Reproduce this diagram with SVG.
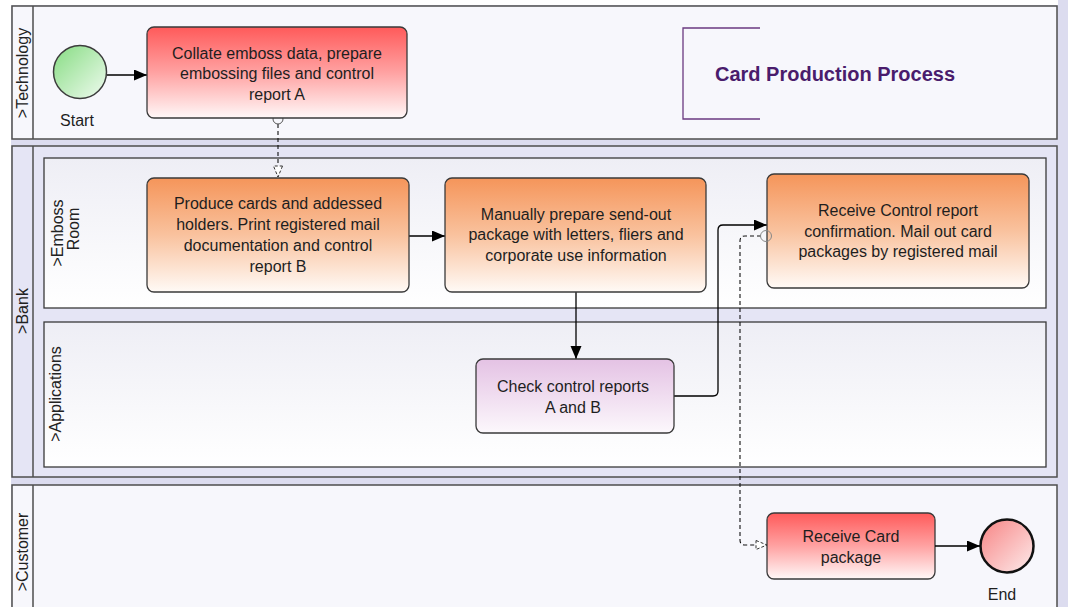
<svg xmlns="http://www.w3.org/2000/svg" width="1068" height="607" viewBox="0 0 1068 607">
  <defs>
    <linearGradient id="gRed" x1="0" y1="0" x2="0" y2="1">
      <stop offset="0" stop-color="#ff5a5a"/>
      <stop offset="0.5" stop-color="#ffa2a2"/>
      <stop offset="1" stop-color="#fff8f8"/>
    </linearGradient>
    <linearGradient id="gOrange" x1="0" y1="0" x2="0" y2="1">
      <stop offset="0" stop-color="#f5955a"/>
      <stop offset="0.5" stop-color="#f9c29e"/>
      <stop offset="1" stop-color="#fffaf6"/>
    </linearGradient>
    <linearGradient id="gPurple" x1="0" y1="0" x2="0" y2="1">
      <stop offset="0" stop-color="#e4c2e4"/>
      <stop offset="1" stop-color="#fcf8fc"/>
    </linearGradient>
    <linearGradient id="gStart" x1="0" y1="0" x2="1" y2="1">
      <stop offset="0" stop-color="#86dc82"/>
      <stop offset="1" stop-color="#f0fbf0"/>
    </linearGradient>
    <linearGradient id="gEnd" x1="0" y1="0" x2="1" y2="1">
      <stop offset="0" stop-color="#f78484"/>
      <stop offset="1" stop-color="#fdecec"/>
    </linearGradient>
    <linearGradient id="gLane" x1="0" y1="0" x2="0" y2="1">
      <stop offset="0" stop-color="#eeeef5"/>
      <stop offset="1" stop-color="#ffffff"/>
    </linearGradient>
    <marker id="arrow" markerUnits="userSpaceOnUse" markerWidth="14" markerHeight="12" refX="13" refY="5.5" orient="auto">
      <path d="M0,0 L13,5.5 L0,11 z" fill="#000"/>
    </marker>
    <marker id="openArrow" markerUnits="userSpaceOnUse" markerWidth="14" markerHeight="12" refX="12" refY="5.5" orient="auto">
      <path d="M1,1 L12,5.5 L1,10 z" fill="#fff" stroke="#333" stroke-width="1" stroke-dasharray="3,2"/>
    </marker>
    <style>
      .pool { stroke: #4e4e4e; stroke-width: 1.5; }
      .poolLight { fill: #f7f7fc; }
      .poolBank { fill: #e5e5f5; }
      .lane { fill: url(#gLane); stroke: #3a3a3a; stroke-width: 1.3; }
      .task { stroke: #3a3a3a; stroke-width: 1.3; }
      .lbl { font-family: "Liberation Sans", Arial, sans-serif; font-size: 16px; fill: #1e1e1e; text-anchor: middle; }
      .hdr { font-family: "Liberation Sans", Arial, sans-serif; font-size: 16px; fill: #222; text-anchor: middle; }
      .title { font-family: "Liberation Sans", Arial, sans-serif; font-size: 20px; font-weight: bold; fill: #4a1c6c; text-anchor: middle; }
      .flow { fill: none; stroke: #000; stroke-width: 1.3; }
      .msg { fill: none; stroke: #111; stroke-width: 1.1; stroke-dasharray: 4,3; }
    </style>
  </defs>

  <!-- page background -->
  <rect x="0" y="0" width="1068" height="607" fill="#ffffff"/>
  <rect x="11" y="5" width="1057" height="602" fill="#dcdcef"/>
  <rect x="1058" y="0" width="10" height="6" fill="#dcdcef"/>

  <!-- pools and lanes -->
  <g id="pool-technology">
    <rect class="pool poolLight" x="12" y="6" width="1045" height="133"/>
    <line class="pool" x1="33" y1="6" x2="33" y2="139"/>
    <text class="hdr" transform="translate(28,73) rotate(-90)">&gt;Technology</text>
  </g>
  <g id="pool-bank">
    <rect class="pool poolBank" x="12" y="146" width="1045" height="331"/>
    <line class="pool" x1="33" y1="146" x2="33" y2="477"/>
    <text class="hdr" transform="translate(28,311) rotate(-90)">&gt;Bank</text>
  </g>
  <g id="lane-emboss-room">
    <rect class="lane" x="44" y="158" width="1002" height="150"/>
    <text class="hdr" transform="translate(63,233) rotate(-90)">&gt;Emboss</text>
    <text class="hdr" transform="translate(79,229) rotate(-90)">Room</text>
  </g>
  <g id="lane-applications">
    <rect class="lane" x="44" y="322" width="1002" height="145"/>
    <text class="hdr" transform="translate(61,394) rotate(-90)">&gt;Applications</text>
  </g>
  <g id="pool-customer">
    <rect class="pool poolLight" x="12" y="485" width="1045" height="140"/>
    <line class="pool" x1="33" y1="485" x2="33" y2="625"/>
    <text class="hdr" transform="translate(28,552) rotate(-90)">&gt;Customer</text>
  </g>

  <!-- title annotation -->
  <g id="annotation-title">
    <path d="M760,28 H683 V119 H760" fill="none" stroke="#6b3a80" stroke-width="1.3"/>
    <text class="title" x="835" y="81">Card Production Process</text>
  </g>

  <!-- connectors -->
  <g id="connectors">
    <path class="flow" d="M107,75 H147" marker-end="url(#arrow)"/>
    <path class="msg" d="M278,124 V177" marker-end="url(#openArrow)"/>
    <path class="flow" d="M409,236 H445" marker-end="url(#arrow)"/>
    <path class="flow" d="M576,292 V359" marker-end="url(#arrow)"/>
    <path class="flow" d="M674,396 H713 Q718,396 718,391 V230 Q718,225 723,225 H767" marker-end="url(#arrow)"/>
    <path class="msg" d="M761,236 H745 Q740,236 740,241 V540 Q740,545 745,545 H767" marker-end="url(#openArrow)"/>
    <circle cx="278" cy="119" r="5" fill="none" stroke="#555" stroke-width="1"/>
  </g>

  <!-- nodes -->
  <g id="start">
    <circle cx="80" cy="72" r="26.5" fill="url(#gStart)" stroke="#3c3c3c" stroke-width="1.5"/>
    <text class="lbl" x="77" y="126">Start</text>
  </g>
  <g id="task-collate">
    <rect class="task" x="147" y="27" width="260" height="91" rx="7" fill="url(#gRed)"/>
    <text class="lbl" x="277" y="59">Collate emboss data, prepare</text>
    <text class="lbl" x="277" y="79">embossing files and control</text>
    <text class="lbl" x="277" y="100">report A</text>
  </g>
  <g id="task-produce">
    <rect class="task" x="147" y="178" width="262" height="114" rx="7" fill="url(#gOrange)"/>
    <text class="lbl" x="278" y="209">Produce cards and addessed</text>
    <text class="lbl" x="278" y="230">holders. Print registered mail</text>
    <text class="lbl" x="278" y="251">documentation and control</text>
    <text class="lbl" x="278" y="272">report B</text>
  </g>
  <g id="task-prepare">
    <rect class="task" x="445" y="178" width="261" height="114" rx="7" fill="url(#gOrange)"/>
    <text class="lbl" x="576" y="220">Manually prepare send-out</text>
    <text class="lbl" x="576" y="240">package with letters, fliers and</text>
    <text class="lbl" x="576" y="261">corporate use information</text>
  </g>
  <g id="task-receive-confirmation">
    <rect class="task" x="767" y="174" width="262" height="114" rx="7" fill="url(#gOrange)"/>
    <text class="lbl" x="898" y="216">Receive Control report</text>
    <text class="lbl" x="898" y="237">confirmation. Mail out card</text>
    <text class="lbl" x="898" y="257">packages by registered mail</text>
    <circle cx="766" cy="236" r="5.5" fill="none" stroke="#888" stroke-width="1"/>
  </g>
  <g id="task-check">
    <rect class="task" x="476" y="359" width="198" height="74" rx="7" fill="url(#gPurple)"/>
    <text class="lbl" x="573" y="392">Check control reports</text>
    <text class="lbl" x="573" y="413">A and B</text>
  </g>
  <g id="task-receive-package">
    <rect class="task" x="767" y="513" width="168" height="66" rx="7" fill="url(#gRed)"/>
    <text class="lbl" x="851" y="542">Receive Card</text>
    <text class="lbl" x="851" y="563">package</text>
  </g>
  <g id="end">
    <circle cx="1007" cy="546" r="26.5" fill="url(#gEnd)" stroke="#111" stroke-width="2.5"/>
    <path class="flow" d="M935,546 H980" marker-end="url(#arrow)"/>
    <text class="lbl" x="1002" y="600">End</text>
  </g>
</svg>
